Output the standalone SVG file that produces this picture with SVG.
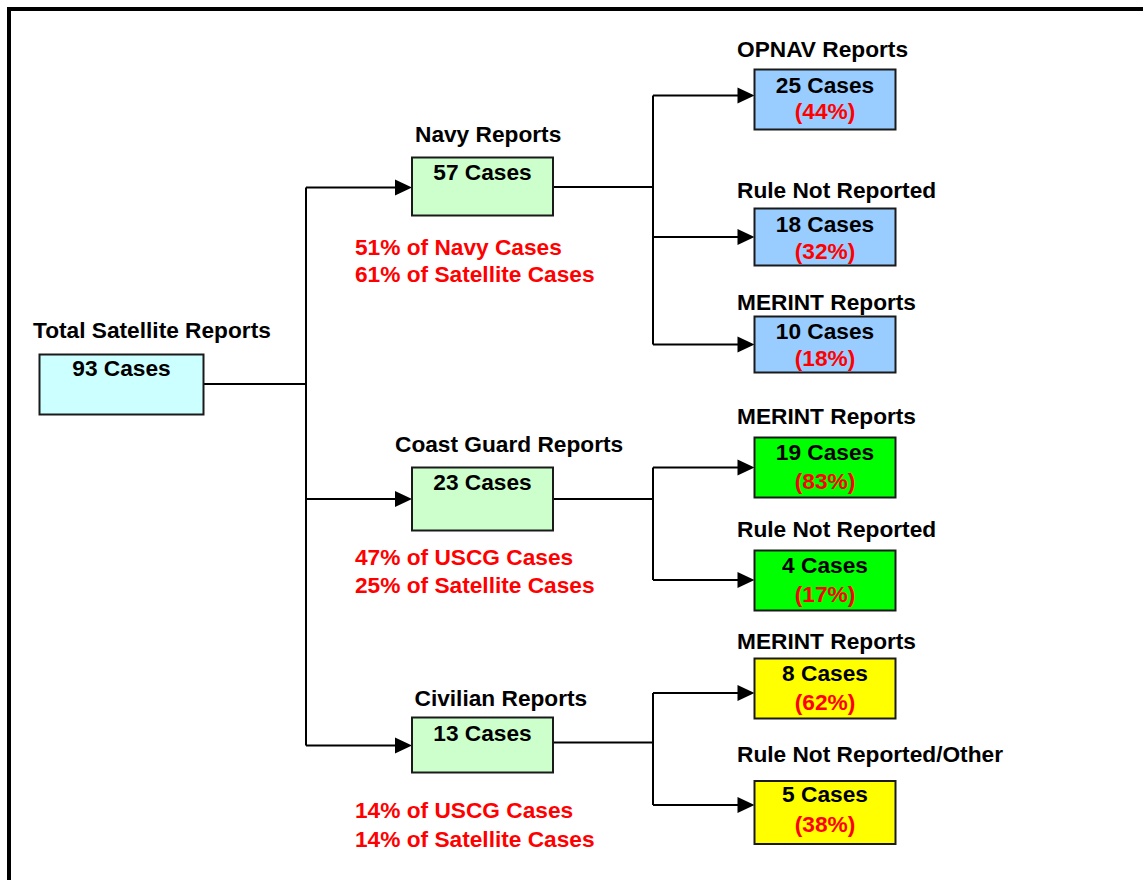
<svg xmlns="http://www.w3.org/2000/svg" width="1143" height="880" viewBox="0 0 1143 880">
<style>
text{font-family:"Liberation Sans",Arial,sans-serif;font-weight:bold;font-size:22.7px;fill:#000}
.c{text-anchor:middle}
.r{fill:#FF0000}
.box{stroke:#1a1a1a;stroke-width:2}
.ln{fill:none;stroke:#000;stroke-width:2}
.ah{fill:#000}
</style>
<rect width="1143" height="880" fill="#fff"/>
<path d="M9,880 V9 H1143" fill="none" stroke="#000" stroke-width="4"/>

<g id="connectors">
  <path class="ln" d="M204,384 H306 M306,187.5 V745.5"/>
  <path class="ln" d="M306,187.5 H396 M306,499 H396 M306,745.5 H396"/>
  <polygon class="ah" points="412,187.5 395,179.5 395,195.5"/>
  <polygon class="ah" points="412,499 395,491 395,507"/>
  <polygon class="ah" points="412,745.5 395,737.5 395,753.5"/>
  <path class="ln" d="M553,187 H653 M653,95.5 V344.5 M653,95.5 H738 M653,237 H738 M653,344.5 H738"/>
  <polygon class="ah" points="754.5,95.5 737.5,87.5 737.5,103.5"/>
  <polygon class="ah" points="754.5,237 737.5,229 737.5,245"/>
  <polygon class="ah" points="754.5,344.5 737.5,336.5 737.5,352.5"/>
  <path class="ln" d="M553,499 H653 M653,467.5 V580 M653,467.5 H738 M653,580 H738"/>
  <polygon class="ah" points="754.5,467.5 737.5,459.5 737.5,475.5"/>
  <polygon class="ah" points="754.5,580 737.5,572 737.5,588"/>
  <path class="ln" d="M553,742.5 H653 M653,693 V805 M653,693 H738 M653,805 H738"/>
  <polygon class="ah" points="754.5,693 737.5,685 737.5,701"/>
  <polygon class="ah" points="754.5,805 737.5,797 737.5,813"/>
</g>

<g id="total">
  <text x="33" y="338">Total Satellite Reports</text>
  <rect class="box" x="39.5" y="354.5" width="164" height="60" fill="#CCFFFF"/>
  <text class="c" x="121.5" y="376">93 Cases</text>
</g>

<g id="navy">
  <text x="415" y="141.5">Navy Reports</text>
  <rect class="box" x="412" y="157.5" width="141" height="58" fill="#CCFFCC"/>
  <text class="c" x="482.5" y="180">57 Cases</text>
  <text class="r" x="355" y="255">51% of Navy Cases</text>
  <text class="r" x="355" y="282">61% of Satellite Cases</text>
</g>

<g id="coastguard">
  <text x="395" y="451.5">Coast Guard Reports</text>
  <rect class="box" x="412" y="467.5" width="141" height="63" fill="#CCFFCC"/>
  <text class="c" x="482.5" y="489.5">23 Cases</text>
  <text class="r" x="355" y="565">47% of USCG Cases</text>
  <text class="r" x="355" y="592.5">25% of Satellite Cases</text>
</g>

<g id="civilian">
  <text x="414.5" y="706">Civilian Reports</text>
  <rect class="box" x="412" y="717.5" width="141" height="55" fill="#CCFFCC"/>
  <text class="c" x="482.5" y="740.5">13 Cases</text>
  <text class="r" x="355" y="818">14% of USCG Cases</text>
  <text class="r" x="355" y="846.5">14% of Satellite Cases</text>
</g>

<g id="opnav">
  <text x="737" y="56.5">OPNAV Reports</text>
  <rect class="box" x="754.5" y="69.5" width="141" height="60" fill="#99CCFF"/>
  <text class="c" x="825" y="92.5">25 Cases</text>
  <text class="c r" x="825" y="118.5">(44%)</text>
</g>

<g id="navy-rule">
  <text x="737" y="197.5">Rule Not Reported</text>
  <rect class="box" x="754.5" y="208.5" width="141" height="57" fill="#99CCFF"/>
  <text class="c" x="825" y="232">18 Cases</text>
  <text class="c r" x="825" y="258.5">(32%)</text>
</g>

<g id="navy-merint">
  <text x="737" y="309.5">MERINT Reports</text>
  <rect class="box" x="754.5" y="316.5" width="141" height="56" fill="#99CCFF"/>
  <text class="c" x="825" y="338.5">10 Cases</text>
  <text class="c r" x="825" y="366">(18%)</text>
</g>

<g id="cg-merint">
  <text x="737" y="424">MERINT Reports</text>
  <rect class="box" x="754.5" y="437.5" width="141" height="60" fill="#00FF00"/>
  <text class="c" x="825" y="460">19 Cases</text>
  <text class="c r" x="825" y="489">(83%)</text>
</g>

<g id="cg-rule">
  <text x="737" y="537">Rule Not Reported</text>
  <rect class="box" x="754.5" y="550.5" width="141" height="60" fill="#00FF00"/>
  <text class="c" x="825" y="573">4 Cases</text>
  <text class="c r" x="825" y="601.5">(17%)</text>
</g>

<g id="civ-merint">
  <text x="737" y="648.5">MERINT Reports</text>
  <rect class="box" x="754.5" y="658.5" width="141" height="60" fill="#FFFF00"/>
  <text class="c" x="825" y="681">8 Cases</text>
  <text class="c r" x="825" y="710">(62%)</text>
</g>

<g id="civ-rule">
  <text x="737" y="762">Rule Not Reported/Other</text>
  <rect class="box" x="754.5" y="781" width="141" height="63" fill="#FFFF00"/>
  <text class="c" x="825" y="802">5 Cases</text>
  <text class="c r" x="825" y="832">(38%)</text>
</g>
</svg>
